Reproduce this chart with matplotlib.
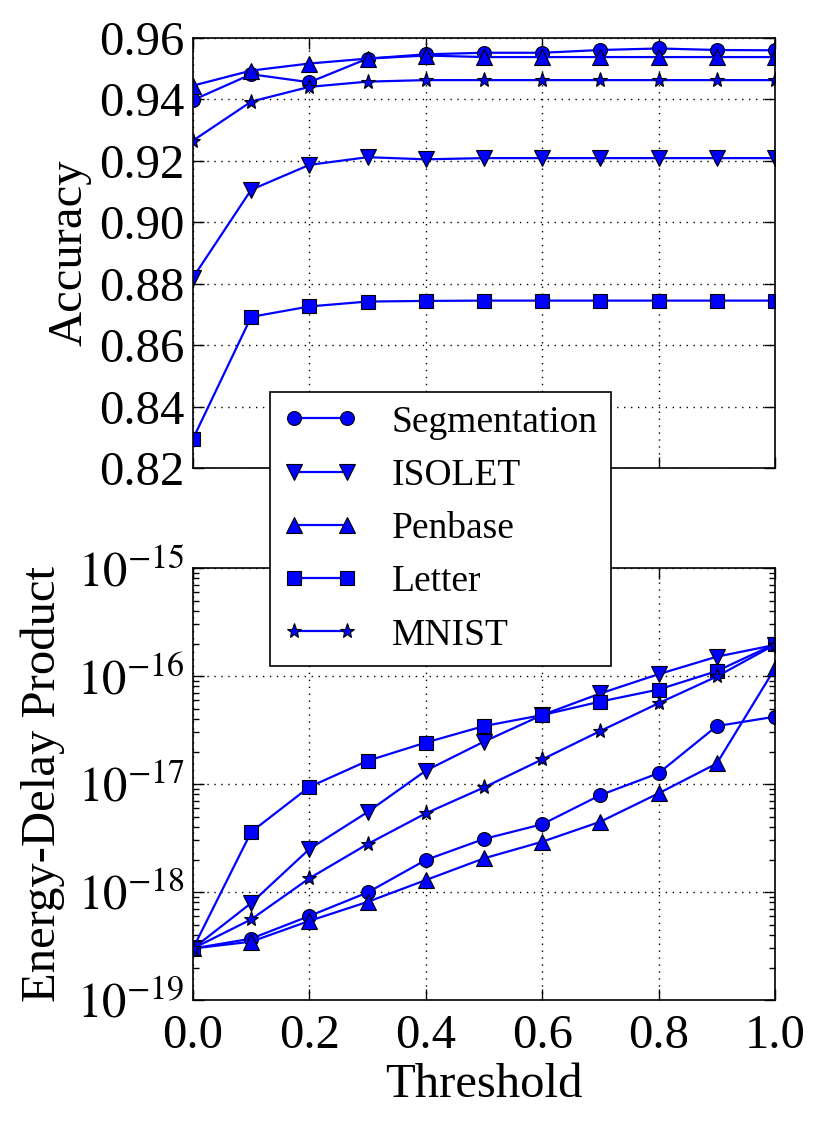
import matplotlib
matplotlib.use("Agg")
import matplotlib.pyplot as plt
from matplotlib.ticker import LogLocator, NullFormatter
import numpy as np

threshold = [0.0, 0.1, 0.2, 0.3, 0.4, 0.5, 0.6, 0.7, 0.8, 0.9, 1.0]
names = ["Segmentation", "ISOLET", "Penbase", "Letter", "MNIST"]
markers = ["o", "v", "^", "s", "*"]

acc_segmentation = [0.9398, 0.9482, 0.9456, 0.9533, 0.9547, 0.9552, 0.9552, 0.9561, 0.9566, 0.9561, 0.9560]
acc_isolet = [0.8820, 0.9106, 0.9187, 0.9212, 0.9205, 0.9209, 0.9209, 0.9209, 0.9209, 0.9209, 0.9209]
acc_penbase = [0.9445, 0.9494, 0.9517, 0.9533, 0.9543, 0.9538, 0.9538, 0.9538, 0.9538, 0.9538, 0.9538]
acc_letter = [0.8295, 0.8692, 0.8726, 0.8742, 0.8744, 0.8745, 0.8745, 0.8745, 0.8745, 0.8745, 0.8745]
acc_mnist = [0.9266, 0.9393, 0.9441, 0.9458, 0.9463, 0.9463, 0.9463, 0.9463, 0.9463, 0.9463, 0.9463]

edp_segmentation = [3.0e-19, 3.7e-19, 6.0e-19, 9.9e-19, 1.98e-18, 3.1e-18, 4.24e-18, 7.9e-18, 1.26e-17, 3.44e-17, 4.2e-17]
edp_isolet = [3.0e-19, 7.9e-19, 2.5e-18, 5.5e-18, 1.33e-17, 2.47e-17, 4.35e-17, 6.9e-17, 1.04e-16, 1.51e-16, 1.94e-16]
edp_penbase = [3.0e-19, 3.47e-19, 5.4e-19, 8.1e-19, 1.29e-18, 2.05e-18, 2.92e-18, 4.48e-18, 8.2e-18, 1.55e-17, 1.18e-16]
edp_letter = [3.0e-19, 3.6e-18, 9.4e-18, 1.64e-17, 2.42e-17, 3.44e-17, 4.35e-17, 5.8e-17, 7.5e-17, 1.11e-16, 1.98e-16]
edp_mnist = [3.0e-19, 5.58e-19, 1.34e-18, 2.78e-18, 5.35e-18, 9.3e-18, 1.69e-17, 3.1e-17, 5.6e-17, 9.9e-17, 1.95e-16]

acc_all = [acc_segmentation, acc_isolet, acc_penbase, acc_letter, acc_mnist]
edp_all = [edp_segmentation, edp_isolet, edp_penbase, edp_letter, edp_mnist]

plt.rcParams["font.family"] = ["Liberation Serif", "DejaVu Serif"]
plt.rcParams["mathtext.fontset"] = "stix"
plt.rcParams["xtick.direction"] = "in"
plt.rcParams["ytick.direction"] = "in"

fig = plt.figure(figsize=(8.23, 11.25), dpi=100)
ax1 = fig.add_axes([0.2345, 0.584, 0.7072, 0.3822])
ax2 = fig.add_axes([0.2345, 0.1111, 0.7072, 0.3840])

msizes = {"o": 10, "v": 11, "^": 11, "s": 10, "*": 11}
handles = []
for name, m, acc, edp in zip(names, markers, acc_all, edp_all):
    h, = ax1.plot(threshold, acc, color="blue", marker=m, markersize=msizes[m],
                  markerfacecolor="blue", markeredgecolor="black", markeredgewidth=0.8,
                  linewidth=1.6, label=name)
    ax2.plot(threshold, edp, color="blue", marker=m, markersize=msizes[m],
             markerfacecolor="blue", markeredgecolor="black", markeredgewidth=0.8,
             linewidth=1.6)
    handles.append(h)

for ax in (ax1, ax2):
    ax.set_xlim(0, 1.0)
    ax.grid(True, color="black", linestyle=(0, (1, 4)), linewidth=1.0)
    ax.tick_params(which="major", length=8, width=1, labelsize=35, top=True, right=True, pad=6)
    ax.tick_params(which="minor", length=4, width=1, top=True, right=True)
    for s in ax.spines.values():
        s.set_linewidth(1.2)
    ax.set_xticks([0.0, 0.2, 0.4, 0.6, 0.8, 1.0])

ax1.set_ylim(0.82, 0.96)
ax1.set_yticks([0.82, 0.84, 0.86, 0.88, 0.90, 0.92, 0.94, 0.96])
ax1.set_yticklabels(["0.82", "0.84", "0.86", "0.88", "0.90", "0.92", "0.94", "0.96"])
ax1.tick_params(axis="x", labelbottom=False)
ax1.set_ylabel("Accuracy", fontsize=35)
ax1.yaxis.set_label_coords(-0.175, 0.5)

ax2.set_yscale("log")
ax2.set_ylim(1e-19, 1e-15)
ax2.set_yticks([1e-19, 1e-18, 1e-17, 1e-16, 1e-15])
ax2.set_yticklabels([r"$10^{-19}$", r"$10^{-18}$", r"$10^{-17}$", r"$10^{-16}$", r"$10^{-15}$"])
ax2.yaxis.set_minor_locator(LogLocator(base=10, subs=np.arange(2, 10), numticks=20))
ax2.yaxis.set_minor_formatter(NullFormatter())
ax2.set_xticklabels(["0.0", "0.2", "0.4", "0.6", "0.8", "1.0"])
ax2.set_xlabel("Threshold", fontsize=35)
ax2.set_ylabel("Energy-Delay Product", fontsize=35)
ax2.yaxis.set_label_coords(-0.22, 0.5)
ax2.tick_params(axis="x", pad=10)

fig.legend(handles=handles, loc="upper left", bbox_to_anchor=(0.328, 0.6516),
           borderaxespad=0, fontsize=27, numpoints=2, handlelength=2.0,
           handletextpad=0.9, labelspacing=0.5, borderpad=0.35, fancybox=False,
           framealpha=1, edgecolor="black")
fig.legends[0].get_frame().set_linewidth(1.2)

fig.savefig("out.png", dpi=100)
